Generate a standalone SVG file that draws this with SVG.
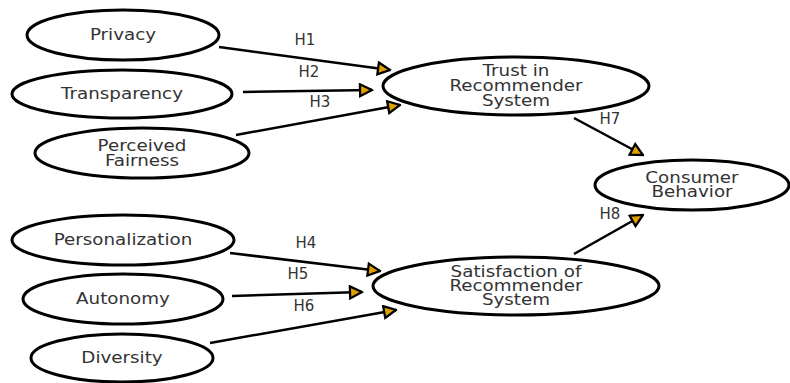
<svg xmlns="http://www.w3.org/2000/svg" width="790" height="383" viewBox="0 0 790 383">
<style>
.n{fill:#fff;stroke:#000;stroke-width:3}
.t{font-family:"DejaVu Sans",sans-serif;font-size:15px;fill:#333;text-anchor:middle}
.e{stroke:#000;stroke-width:2.5;fill:none;marker-end:url(#a)}
.l{font-family:"DejaVu Sans",sans-serif;font-size:15px;fill:#333;text-anchor:middle}
</style>
<defs>
<marker id="a" viewBox="0 0 10 10" refX="9" refY="5" markerWidth="6" markerHeight="6" orient="auto" markerUnits="strokeWidth">
<path d="M1,1 L9,5 L1,9 Z" fill="#e0a000" stroke="#000" stroke-width="1.5" stroke-linejoin="miter"/>
</marker>
</defs>
<rect width="790" height="383" fill="#fff"/>
<g id="connectors">
<line class="e" x1="219" y1="47" x2="390" y2="70"/>
<line class="e" x1="243" y1="92" x2="372" y2="90"/>
<line class="e" x1="236" y1="135" x2="400" y2="105"/>
<line class="e" x1="574" y1="118" x2="643" y2="155"/>
<line class="e" x1="574" y1="254" x2="643" y2="215"/>
<line class="e" x1="230" y1="253" x2="380" y2="271"/>
<line class="e" x1="232" y1="296" x2="362" y2="292"/>
<line class="e" x1="210" y1="343" x2="396" y2="310"/>
<text class="l" x="305" y="45">H1</text>
<text class="l" x="309" y="77">H2</text>
<text class="l" x="320" y="107">H3</text>
<text class="l" x="610" y="124">H7</text>
<text class="l" x="610" y="219">H8</text>
<text class="l" x="306" y="248">H4</text>
<text class="l" x="298" y="279">H5</text>
<text class="l" x="304" y="311">H6</text>
</g>
<g id="privacy"><ellipse class="n" cx="123" cy="35" rx="96" ry="25"/><text class="t" x="123" y="40" transform="matrix(1.22 0 0 1 -27.06 0)">Privacy</text></g>
<g id="transparency"><ellipse class="n" cx="122" cy="94" rx="110" ry="24"/><text class="t" x="122" y="99" transform="matrix(1.22 0 0 1 -26.84 0)">Transparency</text></g>
<g id="fairness"><ellipse class="n" cx="142" cy="153" rx="107" ry="25"/><text class="t" transform="matrix(1.22 0 0 1 -31.24 0)"><tspan x="142" y="151">Perceived</tspan><tspan x="142" y="166">Fairness</tspan></text></g>
<g id="trust"><ellipse class="n" cx="516" cy="86" rx="133" ry="29"/><text class="t" transform="matrix(1.22 0 0 1 -113.52 0)"><tspan x="516" y="76">Trust in</tspan><tspan x="516" y="91">Recommender</tspan><tspan x="516" y="106">System</tspan></text></g>
<g id="consumer"><ellipse class="n" cx="692" cy="185" rx="97" ry="25"/><text class="t" transform="matrix(1.22 0 0 1 -152.24 0)"><tspan x="692" y="183">Consumer</tspan><tspan x="692" y="197">Behavior</tspan></text></g>
<g id="personalization"><ellipse class="n" cx="123" cy="240" rx="111" ry="25"/><text class="t" x="123" y="245" transform="matrix(1.22 0 0 1 -27.06 0)">Personalization</text></g>
<g id="autonomy"><ellipse class="n" cx="123" cy="299" rx="100" ry="25"/><text class="t" x="123" y="304" transform="matrix(1.22 0 0 1 -27.06 0)">Autonomy</text></g>
<g id="diversity"><ellipse class="n" cx="122" cy="358" rx="91" ry="24"/><text class="t" x="122" y="363" transform="matrix(1.22 0 0 1 -26.84 0)">Diversity</text></g>
<g id="satisfaction"><ellipse class="n" cx="516" cy="286" rx="143" ry="29"/><text class="t" transform="matrix(1.22 0 0 1 -113.52 0)"><tspan x="516" y="277">Satisfaction of</tspan><tspan x="516" y="291">Recommender</tspan><tspan x="516" y="305">System</tspan></text></g>
</svg>
